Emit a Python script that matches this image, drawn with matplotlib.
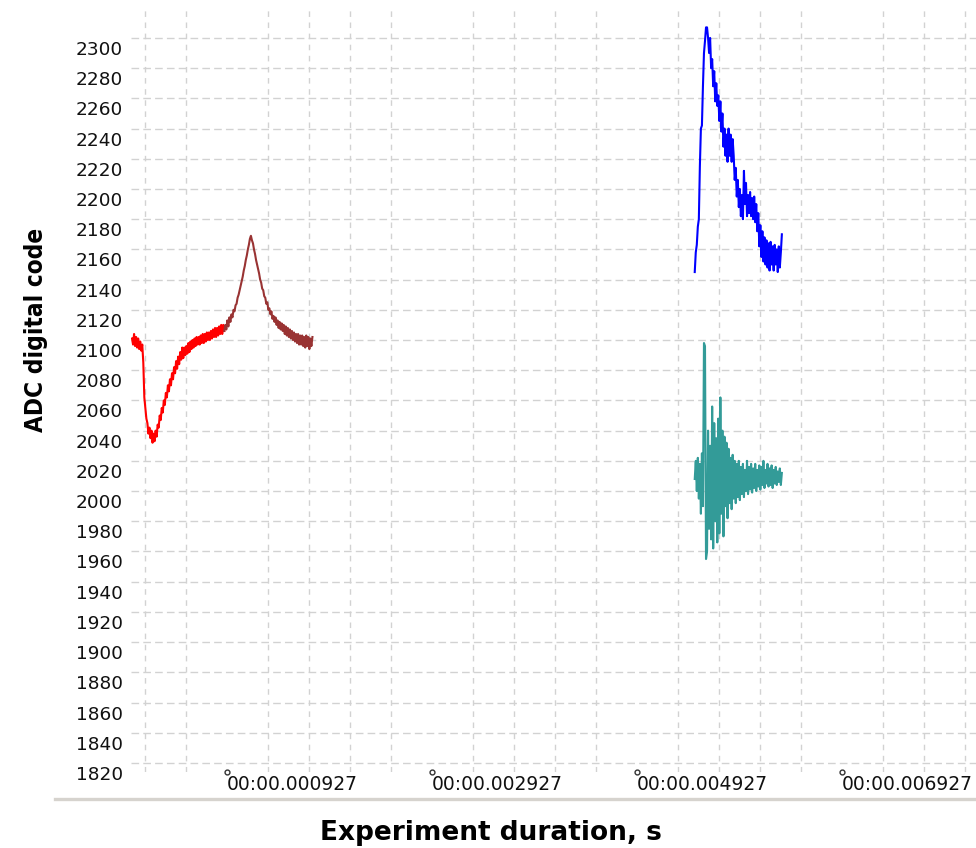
import matplotlib
matplotlib.use("Agg")
import matplotlib.pyplot as plt
from matplotlib.transforms import ScaledTranslation
from matplotlib.lines import Line2D
import numpy as np

# sample values (ADC code), one every 10 microseconds
red_t = list(range(0, 901, 10))
red_v = [2101, 2097, 2104, 2096, 2102, 2095, 2101, 2094, 2099, 2093,
         2097, 2085, 2062, 2055, 2048, 2045, 2038, 2042, 2035, 2040,
         2032, 2038, 2033, 2040, 2036, 2044, 2042, 2050, 2047, 2055,
         2052, 2060, 2057, 2065, 2062, 2070, 2066, 2074, 2070, 2078,
         2074, 2082, 2078, 2086, 2081, 2089, 2084, 2092, 2087, 2095,
         2088, 2095, 2090, 2096, 2091, 2098, 2092, 2099, 2094, 2100,
         2095, 2101, 2096, 2102, 2097, 2102, 2097, 2103, 2098, 2104,
         2098, 2104, 2099, 2105, 2100, 2105, 2100, 2106, 2101, 2107,
         2102, 2108, 2102, 2108, 2103, 2109, 2104, 2110, 2104, 2110,
         2106]

brown_t = list(range(900, 1761, 10))
brown_v = [2106, 2110, 2107, 2113, 2109, 2115, 2112, 2117, 2115, 2120,
           2119, 2123, 2124, 2128, 2130, 2133, 2136, 2139, 2142, 2146,
           2149, 2153, 2156, 2160, 2163, 2167, 2169, 2166, 2164, 2160,
           2157, 2153, 2150, 2147, 2144, 2140, 2138, 2134, 2133, 2129,
           2128, 2124, 2125, 2120, 2121, 2117, 2119, 2114, 2116, 2112,
           2115, 2110, 2113, 2108, 2112, 2107, 2111, 2106, 2110, 2104,
           2109, 2103, 2108, 2102, 2107, 2101, 2106, 2100, 2105, 2099,
           2104, 2098, 2104, 2097, 2103, 2097, 2103, 2096, 2102, 2095,
           2103, 2096, 2102, 2094, 2101, 2096, 2102]

blue_t = list(range(5490, 6341, 10))
blue_v = [2145, 2158, 2163, 2175, 2180, 2215, 2240, 2242, 2268, 2290,
          2298, 2307, 2307, 2300, 2290, 2300, 2280, 2286, 2268, 2278,
          2258, 2270, 2255, 2262, 2245, 2258, 2238, 2250, 2228, 2240,
          2222, 2236, 2218, 2240, 2222, 2236, 2218, 2233, 2222, 2206,
          2214, 2195, 2206, 2188, 2200, 2182, 2196, 2180, 2212, 2190,
          2204, 2182, 2196, 2184, 2198, 2182, 2194, 2180, 2195, 2178,
          2190, 2172, 2184, 2162, 2176, 2155, 2172, 2152, 2168, 2150,
          2166, 2148, 2164, 2146, 2165, 2150, 2162, 2146, 2163, 2150,
          2160, 2145, 2162, 2148, 2158, 2170]

teal_t = list(range(5490, 6341, 10))
teal_v = [2008, 2020, 2000, 2022, 1995, 2018, 1985, 2025, 1990, 2098,
          2096, 1955, 1960, 2040, 1975, 2030, 1968, 2056, 1962, 2045,
          1980, 2035, 1966, 2048, 1972, 2062, 1985, 2040, 1970, 2036,
          1990, 2032, 1982, 2028, 1992, 2022, 1988, 2024, 1995, 2020,
          1992, 2018, 1996, 2020, 1994, 2016, 1998, 2018, 1996, 2014,
          2000, 2020, 1998, 2016, 2001, 2018, 1999, 2015, 2002, 2018,
          2000, 2014, 2003, 2017, 2001, 2016, 2004, 2020, 2002, 2014,
          2005, 2018, 2003, 2015, 2004, 2017, 2002, 2014, 2005, 2016,
          2004, 2013, 2006, 2015, 2004, 2012]

x_major = [927, 2927, 4927, 6927]
y_ticks = list(range(1820, 2301, 20))

fig = plt.figure(figsize=(9.76, 8.48), dpi=100)
ax = fig.add_axes([131 / 976, 1 - 772 / 848, 845 / 976, 762 / 848])

ax.plot(red_t, red_v, color="#ff0000", lw=1.5)
ax.plot(brown_t, brown_v, color="#993333", lw=1.5)
ax.plot(blue_t, blue_v, color="#0000ff", lw=1.5)
ax.plot(teal_t, teal_v, color="#339b98", lw=1.5)

ax.set_xlim(-10, 8234)
ax.set_ylim(1814, 2318.5)

for s in ax.spines.values():
    s.set_visible(False)

ax.set_yticks(y_ticks)
ax.set_yticklabels([str(v) for v in y_ticks], fontsize=13.3, color="#111111",
                   family="DejaVu Sans")
ax.set_xticks(x_major)
ax.set_xticklabels([f"00:00.{t:06d}" for t in x_major], fontsize=13.5,
                   color="#111111", family="DejaVu Sans", ha="left")
ax.set_xticks(np.arange(127, 8300, 400), minor=True)
ax.tick_params(axis="both", which="both", length=0)
ax.tick_params(axis="y", pad=5.8)
ax.tick_params(axis="x", pad=2)

# y labels sit a bit below their grid lines in the original
for lab in ax.get_yticklabels():
    lab.set_transform(lab.get_transform() + ScaledTranslation(0, -0.10, fig.dpi_scale_trans))

ax.grid(axis="y", which="major", color="#d2d2d2", lw=1.0, ls=(0, (5.5, 3)))
ax.grid(axis="x", which="minor", color="#d2d2d2", lw=1.0, ls=(0, (4, 4)))
ax.grid(axis="x", which="major", visible=False)

# little circles at the labelled ticks
ax.plot(x_major, [1814] * len(x_major), ls="none", marker="o", ms=3.5,
        mfc="white", mec="#333333", mew=1.0, clip_on=False, zorder=5)

ax.set_ylabel("ADC digital code", fontsize=17.5, fontweight="bold",
              family="DejaVu Sans", fontstretch="condensed")
ax.yaxis.set_label_coords(-0.098, 0.58)
fig.text(491 / 976, 1 - 833 / 848, "Experiment duration, s", ha="center", va="center",
         fontsize=19, fontweight="bold", family="DejaVu Sans")

fig.add_artist(Line2D([55 / 976, 1], [1 - 799 / 848] * 2, color="#d6d3ce", lw=2.4))

fig.savefig("out.png", dpi=100)
